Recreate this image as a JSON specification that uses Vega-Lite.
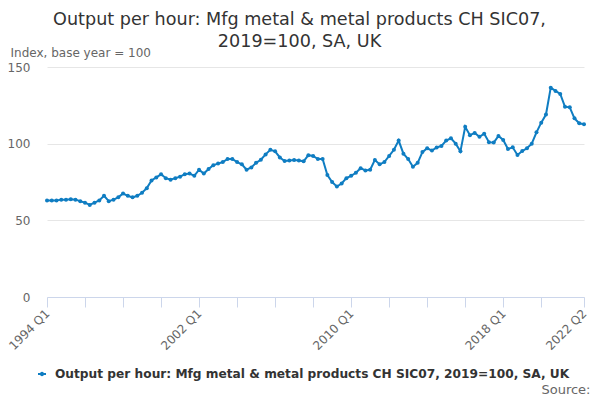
{
  "$schema": "https://vega.github.io/schema/vega-lite/v6.json",
  "width": 537,
  "height": 230,
  "autosize": {"type": "none"},
  "padding": {"left": 47, "top": 67, "right": 16, "bottom": 103},
  "background": "white",
  "config": {"view": {"stroke": null}, "font": "DejaVu Sans"},
  "title": {
    "text": ["Output per hour: Mfg metal & metal products CH SIC07,", "2019=100, SA, UK"],
    "fontSize": 17.6,
    "fontWeight": "normal",
    "color": "#333333",
    "font": "DejaVu Sans",
    "anchor": "middle",
    "frame": "group",
    "dx": -16,
    "offset": -5,
    "lineHeight": 22
  },
  "data": {
    "values": [
      {"q": "1994 Q1", "v": 63}, {"q": "1994 Q2", "v": 63}, {"q": "1994 Q3", "v": 63}, {"q": "1994 Q4", "v": 63.5},
      {"q": "1995 Q1", "v": 63.5}, {"q": "1995 Q2", "v": 63.8}, {"q": "1995 Q3", "v": 63.5}, {"q": "1995 Q4", "v": 62.5},
      {"q": "1996 Q1", "v": 61.5}, {"q": "1996 Q2", "v": 60}, {"q": "1996 Q3", "v": 61.5}, {"q": "1996 Q4", "v": 63},
      {"q": "1997 Q1", "v": 66}, {"q": "1997 Q2", "v": 62.5}, {"q": "1997 Q3", "v": 63.5}, {"q": "1997 Q4", "v": 65},
      {"q": "1998 Q1", "v": 67.5}, {"q": "1998 Q2", "v": 66}, {"q": "1998 Q3", "v": 65}, {"q": "1998 Q4", "v": 66},
      {"q": "1999 Q1", "v": 68}, {"q": "1999 Q2", "v": 71}, {"q": "1999 Q3", "v": 76}, {"q": "1999 Q4", "v": 78},
      {"q": "2000 Q1", "v": 80}, {"q": "2000 Q2", "v": 77.5}, {"q": "2000 Q3", "v": 76.5}, {"q": "2000 Q4", "v": 77.5},
      {"q": "2001 Q1", "v": 78.5}, {"q": "2001 Q2", "v": 80}, {"q": "2001 Q3", "v": 80.5}, {"q": "2001 Q4", "v": 79},
      {"q": "2002 Q1", "v": 83}, {"q": "2002 Q2", "v": 80.5}, {"q": "2002 Q3", "v": 83.5}, {"q": "2002 Q4", "v": 86},
      {"q": "2003 Q1", "v": 87}, {"q": "2003 Q2", "v": 88}, {"q": "2003 Q3", "v": 90}, {"q": "2003 Q4", "v": 90},
      {"q": "2004 Q1", "v": 88}, {"q": "2004 Q2", "v": 86.5}, {"q": "2004 Q3", "v": 83}, {"q": "2004 Q4", "v": 84.5},
      {"q": "2005 Q1", "v": 87.5}, {"q": "2005 Q2", "v": 89.5}, {"q": "2005 Q3", "v": 93}, {"q": "2005 Q4", "v": 96},
      {"q": "2006 Q1", "v": 95}, {"q": "2006 Q2", "v": 91}, {"q": "2006 Q3", "v": 88.7}, {"q": "2006 Q4", "v": 89},
      {"q": "2007 Q1", "v": 89.4}, {"q": "2007 Q2", "v": 89}, {"q": "2007 Q3", "v": 88.5}, {"q": "2007 Q4", "v": 92.5},
      {"q": "2008 Q1", "v": 92}, {"q": "2008 Q2", "v": 90}, {"q": "2008 Q3", "v": 90}, {"q": "2008 Q4", "v": 79.5},
      {"q": "2009 Q1", "v": 75}, {"q": "2009 Q2", "v": 72}, {"q": "2009 Q3", "v": 74}, {"q": "2009 Q4", "v": 77.5},
      {"q": "2010 Q1", "v": 79}, {"q": "2010 Q2", "v": 81}, {"q": "2010 Q3", "v": 84}, {"q": "2010 Q4", "v": 82.5},
      {"q": "2011 Q1", "v": 83}, {"q": "2011 Q2", "v": 89.4}, {"q": "2011 Q3", "v": 86.5}, {"q": "2011 Q4", "v": 88},
      {"q": "2012 Q1", "v": 92}, {"q": "2012 Q2", "v": 96}, {"q": "2012 Q3", "v": 102}, {"q": "2012 Q4", "v": 93.5},
      {"q": "2013 Q1", "v": 90}, {"q": "2013 Q2", "v": 85}, {"q": "2013 Q3", "v": 87.5}, {"q": "2013 Q4", "v": 94.5},
      {"q": "2014 Q1", "v": 97}, {"q": "2014 Q2", "v": 95.5}, {"q": "2014 Q3", "v": 97.5}, {"q": "2014 Q4", "v": 98.5},
      {"q": "2015 Q1", "v": 102}, {"q": "2015 Q2", "v": 103.5}, {"q": "2015 Q3", "v": 100}, {"q": "2015 Q4", "v": 95},
      {"q": "2016 Q1", "v": 111}, {"q": "2016 Q2", "v": 105.5}, {"q": "2016 Q3", "v": 107}, {"q": "2016 Q4", "v": 104.5},
      {"q": "2017 Q1", "v": 106.5}, {"q": "2017 Q2", "v": 101}, {"q": "2017 Q3", "v": 100.7}, {"q": "2017 Q4", "v": 105},
      {"q": "2018 Q1", "v": 102.4}, {"q": "2018 Q2", "v": 96.5}, {"q": "2018 Q3", "v": 97.6}, {"q": "2018 Q4", "v": 92.6},
      {"q": "2019 Q1", "v": 95.2}, {"q": "2019 Q2", "v": 97}, {"q": "2019 Q3", "v": 100}, {"q": "2019 Q4", "v": 107.4},
      {"q": "2020 Q1", "v": 113.7}, {"q": "2020 Q2", "v": 119}, {"q": "2020 Q3", "v": 136.5}, {"q": "2020 Q4", "v": 134.4},
      {"q": "2021 Q1", "v": 132.4}, {"q": "2021 Q2", "v": 124}, {"q": "2021 Q3", "v": 123.7}, {"q": "2021 Q4", "v": 116.5},
      {"q": "2022 Q1", "v": 113.3}, {"q": "2022 Q2", "v": 112.6}
    ]
  },
  "mark": {
    "type": "line",
    "strokeWidth": 2,
    "point": {"size": 16, "filled": true}
  },
  "encoding": {
    "x": {
      "field": "q",
      "type": "ordinal",
      "sort": null,
      "scale": {"type": "point", "padding": 0},
      "axis": {
        "values": ["1994 Q1", "1996 Q1", "1998 Q1", "2000 Q1", "2002 Q1", "2004 Q1", "2006 Q1", "2008 Q1", "2010 Q1", "2012 Q1", "2014 Q1", "2016 Q1", "2018 Q1", "2020 Q1", "2022 Q2"],
        "labelExpr": "indexof(['1994 Q1','2002 Q1','2010 Q1','2018 Q1','2022 Q2'], datum.value) >= 0 ? datum.value : ''",
        "labelAngle": -45,
        "labelAlign": "right",
        "labelBaseline": "middle",
        "labelFontSize": 12,
        "labelColor": "#666666",
        "labelFont": "DejaVu Sans",
        "labelPadding": 4,
        "labelOverlap": false,
        "domainColor": "#ccd6eb",
        "tickColor": "#ccd6eb",
        "tickSize": 10,
        "grid": false,
        "title": "Source:",
        "titleFont": "DejaVu Sans",
        "titleFontSize": 13,
        "titleFontWeight": "normal",
        "titleColor": "#666666",
        "titleAlign": "right",
        "titleBaseline": "bottom",
        "titleAnchor": null,
        "titleX": 543,
        "titleY": 99
      }
    },
    "y": {
      "field": "v",
      "type": "quantitative",
      "scale": {"domain": [0, 150], "nice": false},
      "axis": {
        "values": [0, 50, 100, 150],
        "domain": false,
        "ticks": false,
        "labelPadding": 17,
        "labelFontSize": 12,
        "labelColor": "#666666",
        "labelFont": "DejaVu Sans",
        "gridColor": "#e6e6e6",
        "title": "Index, base year = 100",
        "titleAngle": 0,
        "titleAlign": "left",
        "titleBaseline": "middle",
        "titleX": -37,
        "titleY": -15,
        "titleFont": "DejaVu Sans",
        "titleFontSize": 12,
        "titleFontWeight": "normal",
        "titleColor": "#666666"
      }
    },
    "color": {
      "datum": "Output per hour: Mfg metal & metal products CH SIC07, 2019=100, SA, UK",
      "type": "nominal",
      "scale": {"range": ["#0f7dc2"]},
      "legend": {
        "title": null,
        "orient": "none",
        "legendX": -14,
        "legendY": 298,
        "symbolType": "M-0.5,0H0.5M-0.15,0a0.15,0.15 0 1,0 0.3,0a0.15,0.15 0 1,0 -0.3,0",
        "symbolSize": 256,
        "symbolStrokeWidth": 2,
        "symbolFillColor": "#0f7dc2",
        "symbolStrokeColor": "#0f7dc2",
        "labelFont": "DejaVu Sans",
        "labelFontSize": 12.2,
        "labelFontWeight": "bold",
        "labelColor": "#333333",
        "labelLimit": 700
      }
    }
  }
}
